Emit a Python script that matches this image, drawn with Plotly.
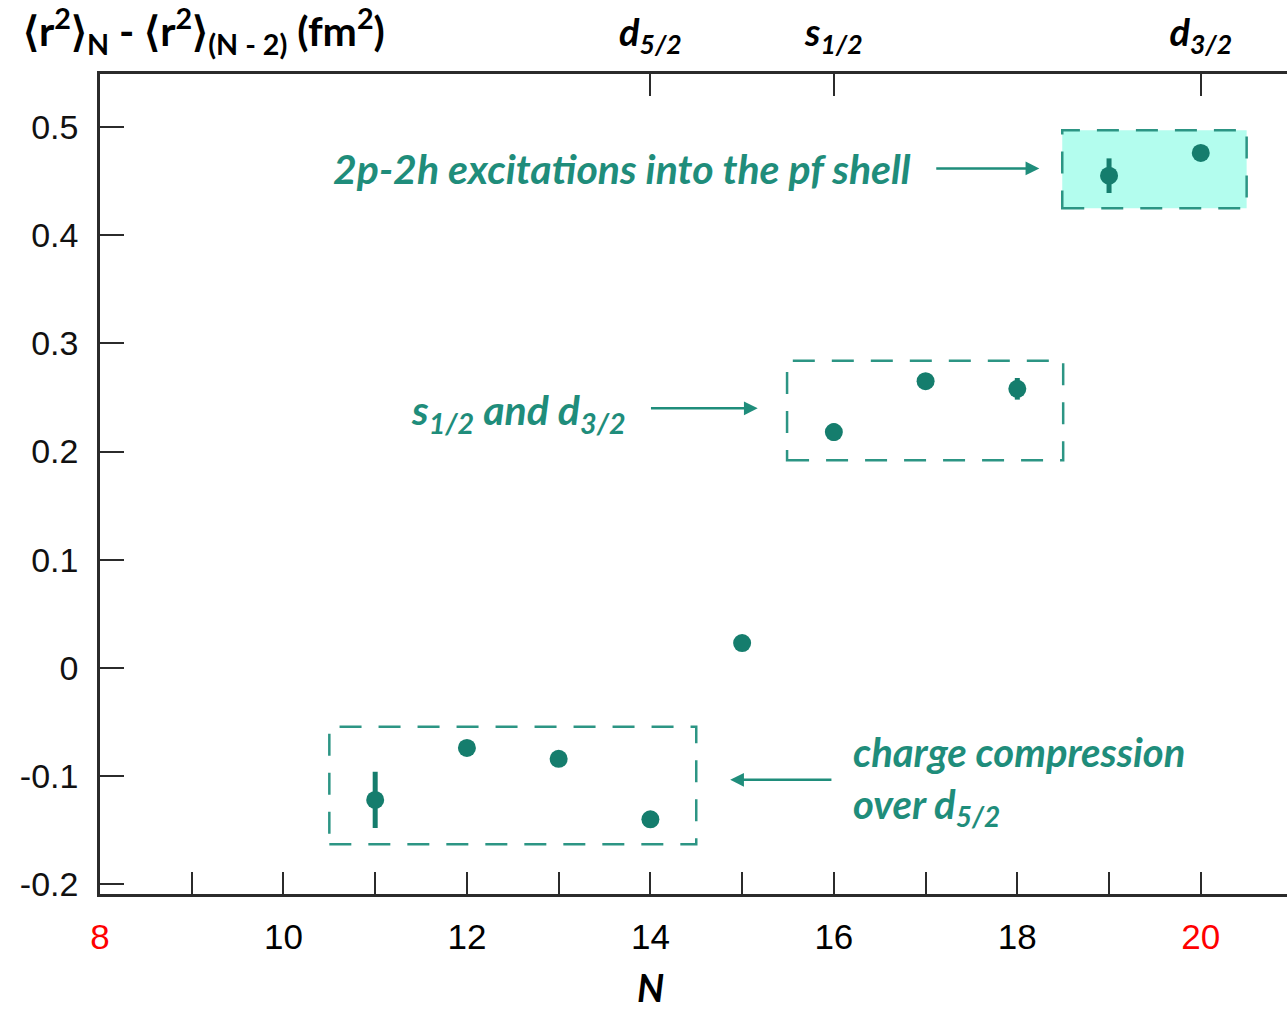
import plotly.graph_objects as go

# Neutron number and differential mean-square charge radii
N = [11, 12, 13, 14, 15, 16, 17, 18, 19, 20]
dr2 = [-0.122, -0.074, -0.084, -0.140, 0.023, 0.218, 0.265, 0.258, 0.455, 0.476]
dr2_err = [0.026, 0.003, 0.005, 0.003, 0.003, 0.008, 0.004, 0.010, 0.016, 0.006]

bottom_ticks = list(range(8, 21))
bottom_labels = ["<span style='color:red'>8</span>", "", "10", "", "12", "", "14", "", "16", "", "18", "",
                 "<span style='color:red'>20</span>"]
y_ticks = [0.5, 0.4, 0.3, 0.2, 0.1, 0, -0.1, -0.2]
y_labels = ["0.5", "0.4", "0.3", "0.2", "0.1", "0", "-0.1", "-0.2"]
orbit_ticks = [14, 16, 20]
orbit_labels = ["<b><i>d<sub>5/2</sub></i></b>", "<b><i>s<sub>1/2</sub></i></b>", "<b><i>d<sub>3/2</sub></i></b>"]

# Grouping boxes: (x0, x1, y0, y1, fill)
boxes = [
    (10.5, 14.5, -0.163, -0.0545, "rgba(0,0,0,0)"),
    (15.49, 18.5, 0.192, 0.284, "rgba(0,0,0,0)"),
    (18.49, 20.5, 0.425, 0.497, "#b3fdee"),
]

TEAL = "#157d6d"
TEXT_TEAL = "#1f8d7b"
AXIS = "#2b2b2b"
XR = [8, 20.94]
YR = [-0.209, 0.549]
CAL = "Lato, 'Open Sans', sans-serif"

fig = go.Figure()

for x0, x1, y0, y1, fill in boxes:
    fig.add_shape(type="rect", x0=x0, x1=x1, y0=y0, y1=y1, xref="x", yref="y",
                  line=dict(color="#2c9584", width=2.5, dash="22px,17px"), fillcolor=fill, layer="below")

fig.add_trace(go.Scatter(
    x=N, y=dr2, mode="markers",
    marker=dict(size=18, color=TEAL),
    error_y=dict(type="data", array=dr2_err, visible=True, color=TEAL, thickness=5, width=0),
    showlegend=False,
))

# invisible trace to activate the top axis
fig.add_trace(go.Scatter(x=XR, y=[None, None], xaxis="x2", showlegend=False, hoverinfo="skip"))

label_font = dict(family=CAL, size=41, color=TEXT_TEAL)

annotations = [
    dict(x=18.24, y=0.4617, ax=17.10, ay=0.4617, xref="x", yref="y", axref="x", ayref="y",
         showarrow=True, arrowhead=2, arrowsize=1.1, arrowwidth=2.5, arrowcolor=TEXT_TEAL, text=""),
    dict(x=15.17, y=0.240, ax=13.99, ay=0.240, xref="x", yref="y", axref="x", ayref="y",
         showarrow=True, arrowhead=2, arrowsize=1.1, arrowwidth=2.5, arrowcolor=TEXT_TEAL, text=""),
    dict(x=14.87, y=-0.1034, ax=15.99, ay=-0.1034, xref="x", yref="y", axref="x", ayref="y",
         showarrow=True, arrowhead=2, arrowsize=1.1, arrowwidth=2.5, arrowcolor=TEXT_TEAL, text=""),
    dict(x=16.86, y=0.462, xref="x", yref="y", xanchor="right", yanchor="middle", showarrow=False,
         text="<b><i>2p-2h excitations into the pf shell</i></b>", font=label_font),
    dict(x=11.37, y=0.236, xref="x", yref="y", xanchor="left", yanchor="middle", showarrow=False,
         text="<b><i>s<sub>1/2</sub> and d<sub>3/2</sub></i></b>", font=label_font),
    dict(x=16.19, y=-0.104, xref="x", yref="y", xanchor="left", yanchor="middle", showarrow=False, align="left",
         text="<b><i>charge compression<br>over d<sub>5/2</sub></i></b>",
         font=dict(family=CAL, size=40, color=TEXT_TEAL)),
    dict(x=0.088, y=1.052, xref="paper", yref="paper", xanchor="center", yanchor="middle", showarrow=False,
         text="<b>\u27e8r<sup>2</sup>\u27e9<sub>N</sub> - \u27e8r<sup>2</sup>\u27e9<sub>(N - 2)</sub> (fm<sup>2</sup>)</b>",
         font=dict(family=CAL, size=41, color="black")),
    dict(x=14, y=-0.113, xref="x", yref="paper", xanchor="center", yanchor="middle", showarrow=False,
         text="<b><i>N</i></b>", font=dict(family=CAL, size=38, color="black")),
]

fig.update_layout(
    width=1287, height=1010,
    margin=dict(l=100, r=0, t=74, b=116),
    paper_bgcolor="white", plot_bgcolor="white",
    showlegend=False,
    xaxis=dict(range=XR, tickvals=bottom_ticks, ticktext=bottom_labels, ticks="inside", ticklen=22,
               tickwidth=2, tickcolor=AXIS, showline=True, linecolor=AXIS, linewidth=2.5,
               showgrid=False, zeroline=False, ticklabelstandoff=10,
               tickfont=dict(family="Liberation Sans, Arial, sans-serif", size=35, color="black")),
    xaxis2=dict(range=XR, overlaying="x", side="top", tickvals=orbit_ticks, ticktext=orbit_labels,
                ticks="inside", ticklen=22, tickwidth=2, tickcolor=AXIS, showline=True, linecolor=AXIS,
                linewidth=2.5, showgrid=False, zeroline=False, ticklabelstandoff=10,
                tickfont=dict(family=CAL, size=38, color="black")),
    yaxis=dict(range=YR, tickvals=y_ticks, ticktext=y_labels, ticks="inside", ticklen=24, tickwidth=2,
               tickcolor=AXIS, showline=True, linecolor=AXIS, linewidth=2.5, showgrid=False, zeroline=False,
               ticklabelstandoff=12,
               tickfont=dict(family="Liberation Sans, Arial, sans-serif", size=34, color="#111")),
    annotations=annotations,
)

fig.write_html("out.html")
